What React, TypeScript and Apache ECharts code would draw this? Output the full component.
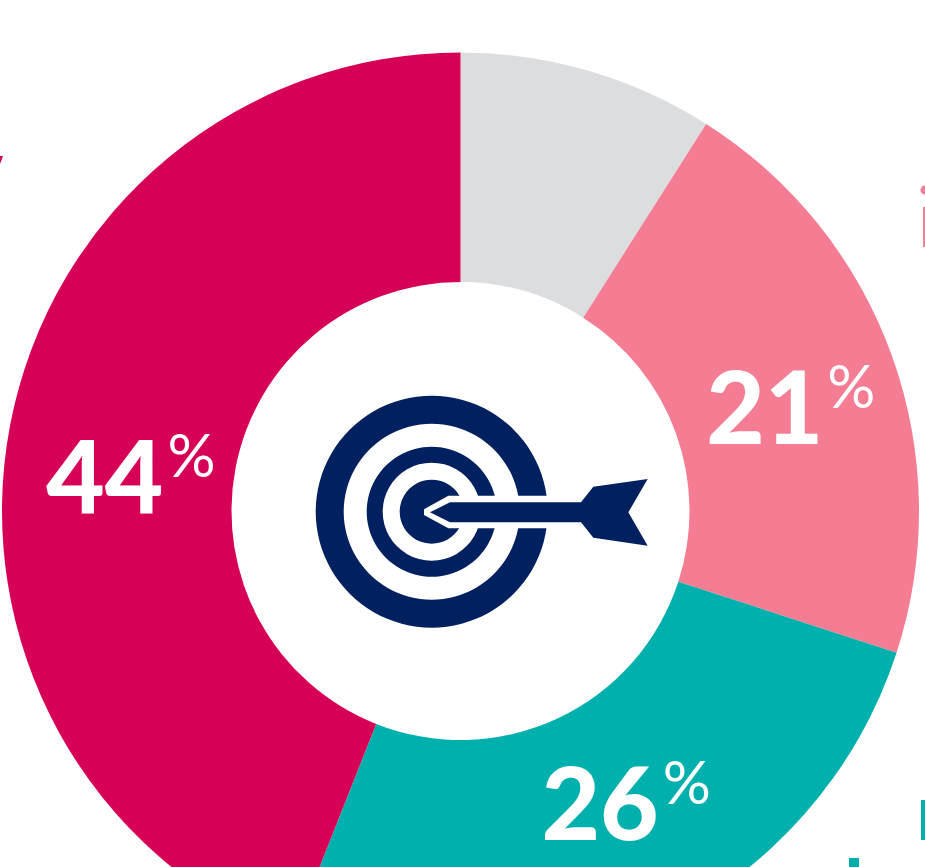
import React, { useEffect, useRef } from "react";
import * as echarts from "echarts";

const categories = ["Remainder", "Segment B", "Segment C", "Segment D"];
const values = [9, 21, 26, 44];
const colors = ["#dcddde", "#f47c93", "#00b0ad", "#d60056"];
const showLabel = [false, true, true, true];
const labelOffsets = [[0, 0], [4, 11], [18, -24], [11, 28]];

const NAVY = "#00205f";
const TX = 431.7;
const TY = 511.7;
const rings = [[88, 116], [49, 65]];
const BULL_R = 32;

// zoomed-crop coordinates of the icon (3x, origin 300,380)
const z = (p: number[][]) => p.map(([x, y]) => [300 + x / 3, 380 + y / 3]);
const arrowPts = z([[390, 397], [450, 367], [843, 367], [880, 320], [1043, 297], [985, 397], [1043, 497], [880, 473], [843, 427], [450, 427]]);
const cutPts = z([[372, 388], [445, 347], [745, 347], [745, 445], [445, 445], [372, 405]]);

export default function App() {
  const ref = useRef<HTMLDivElement>(null);
  useEffect(() => {
    document.body.style.margin = "0";
    const chart = echarts.init(ref.current!, null, { renderer: "svg" });
    chart.setOption({
      animation: false,
      backgroundColor: "#ffffff",
      series: [
        {
          type: "pie",
          center: [460.5, 511],
          radius: [229, 458.5],
          startAngle: 90,
          clockwise: true,
          silent: true,
          avoidLabelOverlap: false,
          labelLine: { show: false },
          emphasis: { disabled: true },
          data: categories.map((name, i) => ({
            name,
            value: values[i],
            itemStyle: { color: colors[i] },
            label: {
              show: showLabel[i],
              position: "inside",
              offset: labelOffsets[i],
              formatter: `{n|${values[i]}}{g|}{p|%}`,
              rich: {
                n: { fontFamily: "Lato", fontWeight: 900, fontSize: 101, color: "#fff", lineHeight: 100 },
                g: { width: 4 },
                p: { fontFamily: "Lato", fontWeight: 400, fontSize: 60, color: "#fff", verticalAlign: "top", lineHeight: 60 },
              },
            },
          })),
        },
      ],
      graphic: [
        ...rings.map(([r0, r]) => ({
          type: "ring",
          shape: { cx: TX, cy: TY, r, r0 },
          style: { fill: NAVY },
          silent: true,
        })),
        { type: "circle", shape: { cx: TX, cy: TY, r: BULL_R }, style: { fill: NAVY }, silent: true },
        { type: "polygon", shape: { points: cutPts }, style: { fill: "#fff" }, silent: true },
        { type: "polygon", shape: { points: arrowPts }, style: { fill: NAVY }, silent: true },
        // cropped neighbouring fragments at the page edges
        { type: "polygon", shape: { points: [[0, 156], [3, 156], [0, 164]] }, style: { fill: "#d60056" }, silent: true },
        { type: "circle", shape: { cx: 925, cy: 190, r: 4.5 }, style: { fill: "#f47c93" }, silent: true },
        { type: "rect", shape: { x: 923, y: 207, width: 2, height: 40 }, style: { fill: "#f47c93" }, silent: true },
        { type: "rect", shape: { x: 921, y: 800, width: 4, height: 40 }, style: { fill: "#00b0ad" }, silent: true },
        { type: "rect", shape: { x: 849, y: 858, width: 10, height: 9 }, style: { fill: "#00b0ad" }, silent: true },
      ],
    });
    return () => chart.dispose();
  }, []);
  return <div ref={ref} style={{ width: 925, height: 867 }} />;
}
